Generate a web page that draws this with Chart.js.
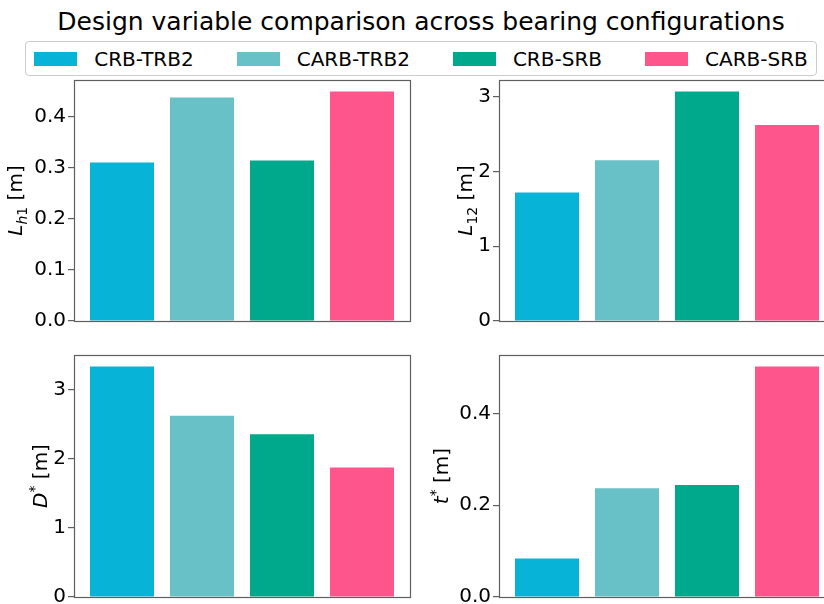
<!DOCTYPE html>
<html>
<head>
<meta charset="utf-8">
<script src="https://cdn.jsdelivr.net/npm/chart.js@4.4.0/dist/chart.umd.min.js"></script>
<style>
  html, body { margin: 0; padding: 0; background: #fff; overflow: hidden; }
  #fig { position: relative; width: 842px; height: 620px; font-family: 'DejaVu Sans', sans-serif; }
  #fig canvas { position: absolute; }
</style>
</head>
<body>
<div id="fig"></div>
<script>
// Bearing configurations and their colours
const configs = ['CRB-TRB2', 'CARB-TRB2', 'CRB-SRB', 'CARB-SRB'];
const colors = ['#08b3d8', '#69c1c8', '#00a98c', '#ff558d'];

// Design variables
const lh1Values = [0.310, 0.437, 0.314, 0.449];
const l12Values = [1.72, 2.15, 3.07, 2.62];
const dStarValues = [3.33, 2.62, 2.35, 1.87];
const tStarValues = [0.084, 0.237, 0.244, 0.502];

// Tick labels per panel
const lh1Ticks = [0, 0.1, 0.2, 0.3, 0.4];
const l12Ticks = [0, 1, 2, 3];
const dStarTicks = [0, 1, 2, 3];
const tStarTicks = [0, 0.2, 0.4];

const titleText = 'Design variable comparison across bearing configurations';

document.addEventListener('DOMContentLoaded', function() {
  const fig = document.getElementById('fig');
  const FONT = "'DejaVu Sans', sans-serif";
  const SPINE = '#5f5f5f';

  // Title
  const title = document.createElement('div');
  title.textContent = titleText;
  title.style.cssText = 'position:absolute;left:0;top:7px;width:842px;text-align:center;font-size:25px;line-height:29px;color:#000;';
  fig.appendChild(title);

  // Legend
  const legend = document.createElement('div');
  legend.style.cssText = 'position:absolute;left:0;top:41px;width:842px;display:flex;justify-content:center;';
  const box = document.createElement('div');
  box.style.cssText = 'display:flex;align-items:center;height:33px;padding:0 8px;border:1px solid #cccccc;border-radius:4px;background:#fff;';
  configs.forEach(function(name, i) {
    const item = document.createElement('div');
    item.style.cssText = 'display:flex;align-items:center;' + (i > 0 ? 'margin-left:43px;' : '');
    const patch = document.createElement('span');
    patch.style.cssText = 'display:inline-block;width:43px;height:14px;background:' + colors[i] + ';';
    const label = document.createElement('span');
    label.textContent = name;
    label.style.cssText = 'margin-left:17px;font-size:20px;line-height:24px;color:#000;';
    item.appendChild(patch);
    item.appendChild(label);
    box.appendChild(item);
  });
  legend.appendChild(box);
  fig.appendChild(legend);

  Chart.defaults.font.family = FONT;
  Chart.defaults.font.size = 20;
  Chart.defaults.color = '#000';

  // Frame around the plot area (matplotlib style spines)
  const framePlugin = {
    id: 'frame',
    afterDraw: function(chart) {
      const a = chart.chartArea;
      const ctx = chart.ctx;
      ctx.save();
      ctx.strokeStyle = SPINE;
      ctx.lineWidth = 1.2;
      ctx.strokeRect(Math.round(a.left) + 0.5, Math.round(a.top) + 0.5,
        Math.round(a.right - a.left), Math.round(a.bottom - a.top));
      ctx.restore();
    }
  };

  // Rotated y label with italic / sub / superscript parts
  const yLabelPlugin = {
    id: 'yLabel',
    afterDraw: function(chart) {
      const opts = chart.options.plugins.yLabel;
      if (!opts) return;
      const ctx = chart.ctx;
      const a = chart.chartArea;
      const fs = 20;
      const yScale = chart.scales.y;
      ctx.save();
      ctx.font = fs + 'px ' + FONT;
      let maxW = 0;
      yScale.ticks.forEach(function(t) {
        maxW = Math.max(maxW, ctx.measureText(t.label).width);
      });
      const baseX = a.left - 8 - maxW - opts.gap;
      const cy = (a.top + a.bottom) / 2;

      function fontFor(kind) {
        const small = kind.indexOf('sub') === 0 || kind.indexOf('sup') === 0;
        const size = small ? fs * 0.7 : fs;
        const ital = (kind === 'i' || kind === 'subi') ? 'italic ' : '';
        return ital + size + 'px ' + FONT;
      }
      function offFor(kind) {
        if (kind.indexOf('sub') === 0) return fs * 0.22;
        if (kind.indexOf('sup') === 0) return -fs * 0.42;
        return 0;
      }
      let total = 0;
      opts.parts.forEach(function(p) {
        ctx.font = fontFor(p[1]);
        total += ctx.measureText(p[0]).width;
      });
      ctx.translate(baseX, cy);
      ctx.rotate(-Math.PI / 2);
      ctx.fillStyle = '#000';
      ctx.textBaseline = 'alphabetic';
      ctx.textAlign = 'left';
      let x = -total / 2;
      opts.parts.forEach(function(p) {
        ctx.font = fontFor(p[1]);
        ctx.fillText(p[0], x, offFor(p[1]));
        x += ctx.measureText(p[0]).width;
      });
      ctx.restore();
    }
  };

  function makePanel(area, values, ticks, decimals, parts, gap) {
    const yW = 80, padTop = 16, padRight = 6, xH = 24;
    const cvs = document.createElement('canvas');
    const w = (area.r - area.l) + yW + padRight;
    const h = (area.b - area.t) + padTop + xH;
    cvs.width = w;
    cvs.height = h;
    cvs.style.left = (area.l - yW) + 'px';
    cvs.style.top = (area.t - padTop) + 'px';
    fig.appendChild(cvs);

    const yMax = Math.max.apply(null, values) * 1.05;

    return new Chart(cvs, {
      type: 'bar',
      data: {
        datasets: [{
          data: values.map(function(v, i) { return { x: i, y: v }; }),
          backgroundColor: colors,
          borderWidth: 0,
          categoryPercentage: 1.0,
          barPercentage: 0.8
        }]
      },
      options: {
        responsive: false,
        animation: false,
        layout: { padding: { top: padTop, right: padRight, left: 0, bottom: 0 } },
        plugins: {
          legend: { display: false },
          tooltip: { enabled: false },
          yLabel: { parts: parts, gap: gap }
        },
        scales: {
          x: {
            type: 'linear',
            min: -0.6,
            max: 3.6,
            offset: false,
            ticks: { display: false },
            grid: { display: false, offset: false },
            border: { display: false },
            afterFit: function(s) { s.height = xH; }
          },
          y: {
            min: 0,
            max: yMax,
            afterBuildTicks: function(s) {
              s.ticks = ticks.map(function(v) { return { value: v }; });
            },
            ticks: {
              padding: 2,
              font: { size: 20 },
              color: '#000',
              callback: function(v) { return Number(v).toFixed(decimals); }
            },
            grid: {
              drawOnChartArea: false,
              drawTicks: true,
              tickLength: 6,
              color: SPINE,
              lineWidth: 1.2
            },
            border: { display: false },
            afterFit: function(s) { s.width = yW; }
          }
        }
      },
      plugins: [framePlugin, yLabelPlugin]
    });
  }

  makePanel({ l: 74, t: 80, r: 410, b: 321 }, lh1Values, lh1Ticks, 1,
    [['L', 'i'], ['h', 'subi'], ['1', 'sub'], [' [m]', '']], 12);
  makePanel({ l: 499, t: 80, r: 835, b: 321 }, l12Values, l12Ticks, 0,
    [['L', 'i'], ['12', 'sub'], [' [m]', '']], 6);
  makePanel({ l: 74, t: 355, r: 410, b: 597 }, dStarValues, dStarTicks, 0,
    [['D', 'i'], ['*', 'sup'], [' [m]', '']], 6);
  makePanel({ l: 499, t: 355, r: 835, b: 597 }, tStarValues, tStarTicks, 1,
    [['t', 'i'], ['*', 'sup'], [' [m]', '']], 11);
});
</script>
</body>
</html>
